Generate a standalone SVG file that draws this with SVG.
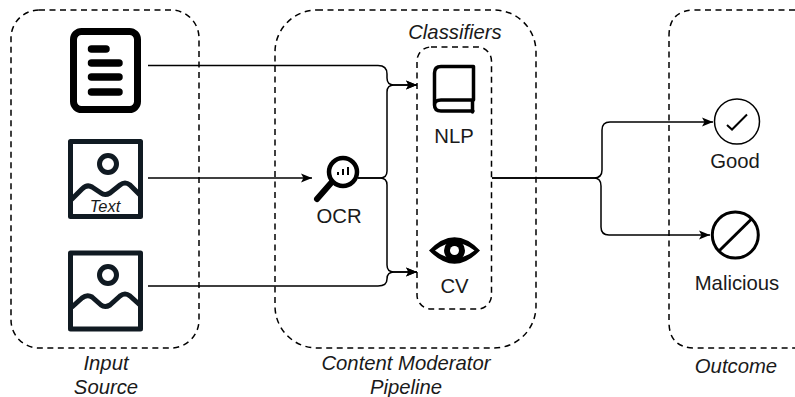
<svg xmlns="http://www.w3.org/2000/svg" width="795" height="397" viewBox="0 0 795 397">
<defs>
<marker id="arrow" markerUnits="userSpaceOnUse" markerWidth="12" markerHeight="10" refX="11" refY="5" orient="auto"><path d="M0,0.5 L11,5 L0,9.5 L2.5,5 Z" fill="#000"/></marker>
</defs>
<style>
.box{fill:none;stroke:#000;stroke-width:1.5;stroke-dasharray:6 4.5}
.conn{fill:none;stroke:#000;stroke-width:1.5;marker-end:url(#arrow)}
.lab{font-family:"Liberation Sans",Arial,sans-serif;font-size:20.3px;fill:#1a1a1a;text-anchor:middle}
.it{font-style:italic}
.small{font-size:16.5px}
.ico{fill:none;stroke:#000;stroke-linecap:round;stroke-linejoin:round}
.img{fill:none;stroke:#101a22;stroke-width:5;stroke-linejoin:round;stroke-linecap:round}
</style>
<rect width="795" height="397" fill="#fff"/>
<g id="input-source">
<rect class="box" x="11" y="10" width="188" height="338" rx="28"/>
<text class="lab it" x="106" y="370">Input</text>
<text class="lab it" x="106" y="393.500">Source</text>
</g>
<g id="pipeline">
<rect class="box" x="275" y="10" width="261" height="338" rx="42"/>
<text class="lab it" x="406" y="370">Content Moderator</text>
<text class="lab it" x="406" y="393.500">Pipeline</text>
</g>
<g id="outcome">
<path class="box" d="M795,10 H695 Q669,10 669,36 V322 Q669,348 695,348 H795"/>
<text class="lab it" x="736" y="373">Outcome</text>
</g>
<g id="classifiers">
<rect class="box" x="417" y="47" width="74.500" height="262" rx="14"/>
<text class="lab it" x="455" y="39">Classifiers</text>
</g>
<g id="connectors">
<path class="conn" d="M148,65.500 H378 Q387,65.500 387,74 V78 Q387,85 394,85 H417"/>
<path class="conn" d="M358,178 H380 Q387,178 387,171 V92 Q387,85 394,85 H417"/>
<path class="conn" d="M358,178 H380 Q387,178 387,185 V265 Q387,272 394,272 H417"/>
<path class="conn" d="M148,286 H378 Q387,286 387,279 V279 Q387,272 394,272 H417"/>
<path class="conn" d="M148,178 H312"/>
<path class="conn" d="M492,178 H594 Q602,178 602,170 V130 Q602,122 610,122 H713"/>
<path class="conn" d="M492,178 H594 Q601,178 601,186 V227 Q601,235 609,235 H710"/>
</g>
<g id="doc">
<rect class="ico" x="73.500" y="31.500" width="64" height="78" rx="8" stroke-width="7"/>
<path class="ico" d="M91.500,49 H106 M91.500,63 H119 M91.500,77 H119 M91.500,92 H119" stroke-width="7.500"/>
</g>
<g id="image-text">
<rect class="img" x="70.500" y="141.500" width="70" height="75"/>
<circle class="img" cx="108" cy="164" r="8.500"/>
<path class="img" d="M72,199 L82,189 Q87,184 92,187 L101,193 Q105,196 110,193 L120,185 Q125,181 130,185 L140,195"/>
<text class="lab it small" x="105" y="212">Text</text>
</g>
<g id="image">
<rect class="img" x="70.500" y="253" width="70" height="76"/>
<circle class="img" cx="108" cy="275" r="8.500"/>
<path class="img" d="M72,307 L82,298 Q87,294 92,297 L101,305 Q105,308 110,305 L120,296 Q125,292 130,296 L140,305"/>
</g>
<g id="ocr">
<circle class="ico" cx="343" cy="172" r="14" stroke-width="4.500"/>
<path class="ico" d="M331,183 L317,199" stroke-width="6"/>
<path class="ico" d="M338,172 V175 M343,169 V175 M348,167 V175" stroke-width="2" style="stroke-linecap:butt"/>
<text class="lab" x="339" y="223">OCR</text>
</g>
<g id="nlp">
<path class="ico" d="M441,100 H473.500 V66.500 H441 Q434.500,66.500 434.500,73 V105 Q434.500,111 441,111 H473 M434.500,105 Q434.500,100 441,100 M472.500,100 V112" stroke-width="3.500"/>
<text class="lab" x="454" y="143">NLP</text>
</g>
<g id="cv">
<path fill-rule="evenodd" fill="#000" d="M429,250.500 Q454.500,224 480,250.500 Q454.500,277 429,250.500 Z M435,250.500 Q454.500,235 474.500,250.500 Q454.500,266 435,250.500 Z"/>
<circle cx="454.500" cy="250.500" r="10.500" fill="#000"/>
<circle cx="454.500" cy="250.500" r="4.500" fill="#fff"/>
<text class="lab" x="454.500" y="293">CV</text>
</g>
<g id="good">
<circle cx="737" cy="121.500" r="22.500" fill="#fff" stroke="#000" stroke-width="1.500"/>
<path d="M727,125 L732,129.500 L747,114.500" fill="none" stroke="#000" stroke-width="2"/>
<text class="lab" x="735" y="168">Good</text>
</g>
<g id="malicious">
<circle cx="735.300" cy="235" r="23" fill="#fff" stroke="#000" stroke-width="3"/>
<path d="M719,251 L751.500,219" stroke="#000" stroke-width="3"/>
<text class="lab" x="737" y="290">Malicious</text>
</g>
</svg>
